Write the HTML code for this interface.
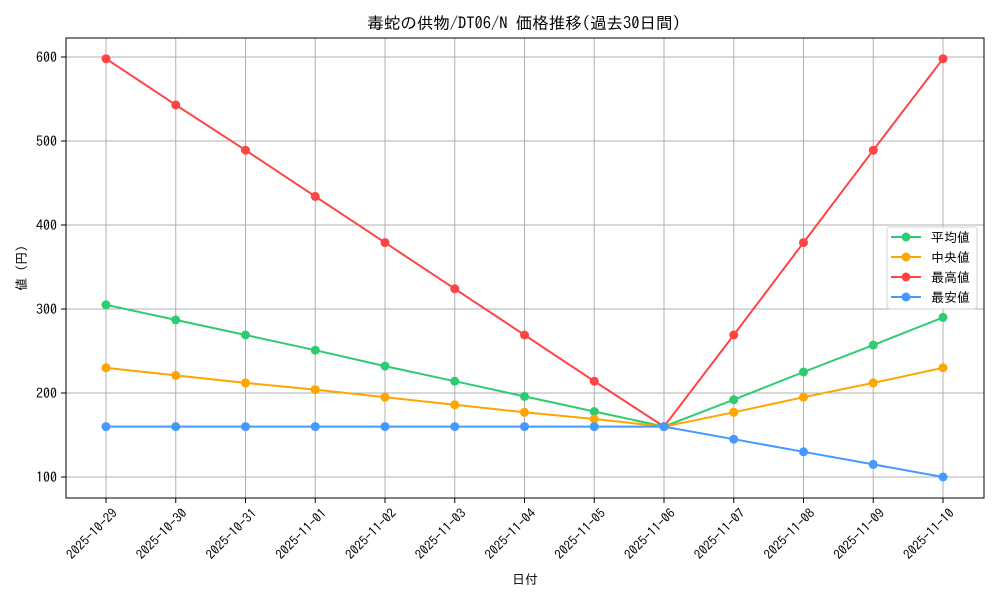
<!DOCTYPE html><html><head><meta charset="utf-8"><style>body{margin:0;background:#fff}svg{display:block}text{font-family:"IPAGothic","Noto Sans CJK JP",monospace;fill:#000}</style></head><body>
<svg width="1000" height="600" xmlns="http://www.w3.org/2000/svg">
<rect width="1000" height="600" fill="#fff"/>
<g stroke="#b0b0b0" stroke-width="1">
<line x1="106" y1="38" x2="106" y2="498"/><line x1="175.75" y1="38" x2="175.75" y2="498"/><line x1="245.5" y1="38" x2="245.5" y2="498"/><line x1="315.25" y1="38" x2="315.25" y2="498"/><line x1="385" y1="38" x2="385" y2="498"/><line x1="454.75" y1="38" x2="454.75" y2="498"/><line x1="524.5" y1="38" x2="524.5" y2="498"/><line x1="594.25" y1="38" x2="594.25" y2="498"/><line x1="664" y1="38" x2="664" y2="498"/><line x1="733.75" y1="38" x2="733.75" y2="498"/><line x1="803.5" y1="38" x2="803.5" y2="498"/><line x1="873.25" y1="38" x2="873.25" y2="498"/><line x1="943" y1="38" x2="943" y2="498"/>
<line x1="66" y1="477" x2="984" y2="477"/><line x1="66" y1="393" x2="984" y2="393"/><line x1="66" y1="309" x2="984" y2="309"/><line x1="66" y1="225" x2="984" y2="225"/><line x1="66" y1="141" x2="984" y2="141"/><line x1="66" y1="57" x2="984" y2="57"/>
</g>
<rect x="66" y="38" width="918" height="460" fill="none" stroke="#000" stroke-width="1"/>
<g stroke="#000"><line x1="61" y1="477" x2="66" y2="477"/><line x1="61" y1="393" x2="66" y2="393"/><line x1="61" y1="309" x2="66" y2="309"/><line x1="61" y1="225" x2="66" y2="225"/><line x1="61" y1="141" x2="66" y2="141"/><line x1="61" y1="57" x2="66" y2="57"/>
<line x1="106" y1="498" x2="106" y2="503"/><line x1="175.75" y1="498" x2="175.75" y2="503"/><line x1="245.5" y1="498" x2="245.5" y2="503"/><line x1="315.25" y1="498" x2="315.25" y2="503"/><line x1="385" y1="498" x2="385" y2="503"/><line x1="454.75" y1="498" x2="454.75" y2="503"/><line x1="524.5" y1="498" x2="524.5" y2="503"/><line x1="594.25" y1="498" x2="594.25" y2="503"/><line x1="664" y1="498" x2="664" y2="503"/><line x1="733.75" y1="498" x2="733.75" y2="503"/><line x1="803.5" y1="498" x2="803.5" y2="503"/><line x1="873.25" y1="498" x2="873.25" y2="503"/><line x1="943" y1="498" x2="943" y2="503"/></g>
<g font-size="14" text-anchor="end"><text x="57" y="482">100</text><text x="57" y="398">200</text><text x="57" y="314">300</text><text x="57" y="230">400</text><text x="57" y="146">500</text><text x="57" y="62">600</text></g>
<g font-size="13" text-anchor="end">
<text transform="translate(118,514) rotate(-45)">2025-10-29</text><text transform="translate(187.75,514) rotate(-45)">2025-10-30</text><text transform="translate(257.5,514) rotate(-45)">2025-10-31</text><text transform="translate(327.25,514) rotate(-45)">2025-11-01</text><text transform="translate(397,514) rotate(-45)">2025-11-02</text><text transform="translate(466.75,514) rotate(-45)">2025-11-03</text><text transform="translate(536.5,514) rotate(-45)">2025-11-04</text><text transform="translate(606.25,514) rotate(-45)">2025-11-05</text><text transform="translate(676,514) rotate(-45)">2025-11-06</text><text transform="translate(745.75,514) rotate(-45)">2025-11-07</text><text transform="translate(815.5,514) rotate(-45)">2025-11-08</text><text transform="translate(885.25,514) rotate(-45)">2025-11-09</text><text transform="translate(955,514) rotate(-45)">2025-11-10</text>
</g>
<text x="525" y="584" font-size="13" text-anchor="middle">日付</text>
<text transform="translate(26,268) rotate(-90)" font-size="13" text-anchor="middle">値 (円)</text>
<text x="524" y="29" font-size="16.5" text-anchor="middle">毒蛇の供物/DT06/N 価格推移(過去30日間)</text>
<g fill="none" stroke-width="2">
<polyline stroke="#2ecc71" points="106,304.8 175.75,319.9 245.5,335 315.25,350.2 385,366.1 454.75,381.2 524.5,396.4 594.25,411.5 664,426.6 733.75,399.7 803.5,372 873.25,345.1 943,317.4"/>
<polyline stroke="#ffa500" points="106,367.8 175.75,375.4 245.5,382.9 315.25,389.6 385,397.2 454.75,404.8 524.5,412.3 594.25,419 664,426.6 733.75,412.3 803.5,397.2 873.25,382.9 943,367.8"/>
<polyline stroke="#ff4444" points="106,58.7 175.75,104.9 245.5,150.2 315.25,196.4 385,242.6 454.75,288.8 524.5,335 594.25,381.2 664,426.6 733.75,335 803.5,242.6 873.25,150.2 943,58.7"/>
<polyline stroke="#4499ff" points="106,426.6 175.75,426.6 245.5,426.6 315.25,426.6 385,426.6 454.75,426.6 524.5,426.6 594.25,426.6 664,426.6 733.75,439.2 803.5,451.8 873.25,464.4 943,477"/>
</g>
<g fill="#2ecc71"><circle cx="106" cy="304.8" r="4.5"/><circle cx="175.75" cy="319.9" r="4.5"/><circle cx="245.5" cy="335" r="4.5"/><circle cx="315.25" cy="350.2" r="4.5"/><circle cx="385" cy="366.1" r="4.5"/><circle cx="454.75" cy="381.2" r="4.5"/><circle cx="524.5" cy="396.4" r="4.5"/><circle cx="594.25" cy="411.5" r="4.5"/><circle cx="664" cy="426.6" r="4.5"/><circle cx="733.75" cy="399.7" r="4.5"/><circle cx="803.5" cy="372" r="4.5"/><circle cx="873.25" cy="345.1" r="4.5"/><circle cx="943" cy="317.4" r="4.5"/></g>
<g fill="#ffa500"><circle cx="106" cy="367.8" r="4.5"/><circle cx="175.75" cy="375.4" r="4.5"/><circle cx="245.5" cy="382.9" r="4.5"/><circle cx="315.25" cy="389.6" r="4.5"/><circle cx="385" cy="397.2" r="4.5"/><circle cx="454.75" cy="404.8" r="4.5"/><circle cx="524.5" cy="412.3" r="4.5"/><circle cx="594.25" cy="419" r="4.5"/><circle cx="664" cy="426.6" r="4.5"/><circle cx="733.75" cy="412.3" r="4.5"/><circle cx="803.5" cy="397.2" r="4.5"/><circle cx="873.25" cy="382.9" r="4.5"/><circle cx="943" cy="367.8" r="4.5"/></g>
<g fill="#ff4444"><circle cx="106" cy="58.7" r="4.5"/><circle cx="175.75" cy="104.9" r="4.5"/><circle cx="245.5" cy="150.2" r="4.5"/><circle cx="315.25" cy="196.4" r="4.5"/><circle cx="385" cy="242.6" r="4.5"/><circle cx="454.75" cy="288.8" r="4.5"/><circle cx="524.5" cy="335" r="4.5"/><circle cx="594.25" cy="381.2" r="4.5"/><circle cx="664" cy="426.6" r="4.5"/><circle cx="733.75" cy="335" r="4.5"/><circle cx="803.5" cy="242.6" r="4.5"/><circle cx="873.25" cy="150.2" r="4.5"/><circle cx="943" cy="58.7" r="4.5"/></g>
<g fill="#4499ff"><circle cx="106" cy="426.6" r="4.5"/><circle cx="175.75" cy="426.6" r="4.5"/><circle cx="245.5" cy="426.6" r="4.5"/><circle cx="315.25" cy="426.6" r="4.5"/><circle cx="385" cy="426.6" r="4.5"/><circle cx="454.75" cy="426.6" r="4.5"/><circle cx="524.5" cy="426.6" r="4.5"/><circle cx="594.25" cy="426.6" r="4.5"/><circle cx="664" cy="426.6" r="4.5"/><circle cx="733.75" cy="439.2" r="4.5"/><circle cx="803.5" cy="451.8" r="4.5"/><circle cx="873.25" cy="464.4" r="4.5"/><circle cx="943" cy="477" r="4.5"/></g>
<rect x="887" y="227" width="90" height="82" rx="3" fill="#fff" fill-opacity="0.85" stroke="#d0d0d0"/>
<g stroke-width="2"><line x1="891" y1="237" x2="921" y2="237" stroke="#2ecc71"/><line x1="891" y1="257" x2="921" y2="257" stroke="#ffa500"/><line x1="891" y1="277" x2="921" y2="277" stroke="#ff4444"/><line x1="891" y1="297" x2="921" y2="297" stroke="#4499ff"/></g>
<circle cx="906" cy="237" r="4.5" fill="#2ecc71"/><circle cx="906" cy="257" r="4.5" fill="#ffa500"/><circle cx="906" cy="277" r="4.5" fill="#ff4444"/><circle cx="906" cy="297" r="4.5" fill="#4499ff"/>
<g font-size="13"><text x="931" y="242">平均値</text><text x="931" y="262">中央値</text><text x="931" y="282">最高値</text><text x="931" y="302">最安値</text></g>
</svg></body></html>
